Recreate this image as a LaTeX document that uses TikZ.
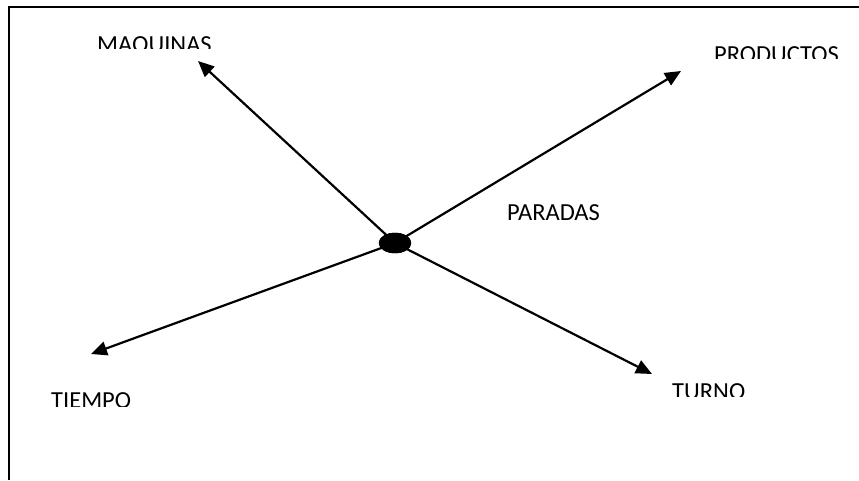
\documentclass[tikz,border=0pt]{standalone}
\usepackage{fontspec}
\setmainfont{Carlito}
\usetikzlibrary{arrows.meta,shapes.geometric}
\begin{document}
\begin{tikzpicture}[x=1pt,y=-1pt,
  conn/.style={line width=2.2pt,-{Triangle[length=16pt,width=14pt]}},
  hub/.style={draw,fill=black,ellipse,minimum width=32pt,minimum height=20pt,inner sep=0pt},
  lbl/.style={inner sep=0pt,anchor=base west,font=\fontsize{24.5}{29}\selectfont}]
\useasboundingbox (0,0) rectangle (859,480);
% frame (top and left edges visible)
\draw[line width=1.6pt] (9,480) -- (9,7) -- (859,7);
% hub
\node[hub] (c) at (395,243) {};
% arrow tips
\coordinate (tm) at (198,61);
\coordinate (tp) at (681,71);
\coordinate (tt) at (91,354);
\coordinate (tu) at (652,374);
\draw[conn] (c.center) -- (tm);
\draw[conn] (c.center) -- (tp);
\draw[conn] (c.center) -- (tt);
\draw[conn] (c.center) -- (tu);
\node[hub] at (c.center) {};
% labels (clipped at bottom like the original text boxes)
\begin{scope}
\clip (0,0) rectangle (859,48);
\node[lbl] (lm) at (97,52) {MAQUINAS};
\end{scope}
\begin{scope}
\clip (0,0) rectangle (859,58);
\node[lbl] (lp) at (714,62) {PRODUCTOS};
\end{scope}
\node[lbl] (lpa) at (507,220) {PARADAS};
\begin{scope}
\clip (0,380) rectangle (859,406);
\node[lbl] (lt) at (51,408) {TIEMPO};
\end{scope}
\begin{scope}
\clip (0,370) rectangle (859,396);
\node[lbl] (lu) at (672,399.5) {TURNO};
\end{scope}
\end{tikzpicture}
\end{document}
